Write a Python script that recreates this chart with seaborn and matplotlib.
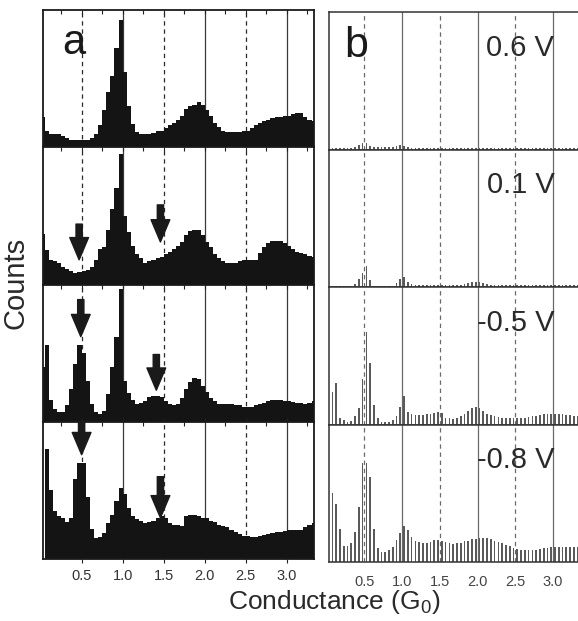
import numpy as np
import pandas as pd
import matplotlib
matplotlib.use("Agg")
import matplotlib.pyplot as plt
import seaborn as sns

sns.set_theme(style="white")
plt.rcParams["font.family"] = ["Liberation Sans", "DejaVu Sans"]
plt.rcParams["mathtext.fontset"] = "custom"
plt.rcParams["mathtext.rm"] = "Liberation Sans"
plt.rcParams["mathtext.it"] = "Liberation Sans:italic"

# ---------------- data (bin width 0.05 G0, bins 0.00 .. 3.35) ----------------
bin_edges = [round(0.05 * i, 2) for i in range(68)]
bin_centers = [round(0.025 + 0.05 * i, 3) for i in range(67)]

# panel a (filled histograms), counts in % of panel height
a_top = [22, 12, 10, 10, 10, 8, 6.5, 5.5, 5, 5, 5, 5.5, 7, 10, 16, 27, 40, 52, 72, 93,
         55, 30, 17, 11, 10, 10, 10, 10.5, 11.5, 12, 14, 16, 18, 20, 23, 28, 30, 31, 33, 31,
         27, 23, 18, 15, 12, 11, 11, 11, 11, 12, 12, 14, 16, 18, 19, 20, 21, 22, 22, 23,
         23, 24, 25, 25, 22, 20, 19]
a_second = [37, 25, 18, 17, 16, 13, 11, 10, 8.5, 9, 10, 10.5, 13, 18, 26, 27, 40, 55, 70, 95,
            50, 38, 28, 22, 19, 16, 17, 18, 19, 20, 22, 24, 26, 28, 31, 36, 39, 40, 40, 36,
            31, 27, 22, 19, 17, 16, 16, 16, 17, 18, 18, 18, 18, 23, 27, 30, 32, 32, 32, 30,
            28, 26, 24, 23, 22, 21, 20]
a_third = [40, 56, 16, 9, 7, 7, 12, 24, 42, 56, 50, 30, 13, 7, 5.5, 8, 20, 40, 62, 97,
           30, 21, 16, 13, 13.5, 15, 18, 19, 19, 18, 15, 13, 12, 13, 17, 24, 29, 32, 31, 26,
           22, 17, 15, 13, 13, 13, 13, 12.5, 12, 11, 10.5, 11, 12, 13, 14, 15, 16, 16, 15.5, 15,
           15, 14.5, 14, 13.5, 13, 14, 15]
a_bottom = [0, 80, 50, 35, 31, 30, 27, 30, 58, 70, 70, 45, 22, 15, 16, 19, 26, 32, 42, 52,
            47, 37, 31, 29, 28, 26, 27, 28, 30, 31, 30, 26, 25, 25, 24, 31, 32, 32, 31, 30,
            30, 28, 27, 25, 24, 23, 21, 20, 18.5, 17, 16.5, 16, 16, 17, 17.5, 18, 19, 19.5, 20, 20.5,
            21, 21, 21, 21, 23, 25, 26]

# panel b (electrode potential series)
b_06V = [1.2, 1.2, 1.2, 1.2, 1.2, 1.2, 1.2, 1.5, 3, 5, 4.5, 2.5, 2, 2, 2, 2, 2, 2, 2.5, 3,
         2.5, 1.5, 1.2, 1.2, 1.2, 1.2, 1.2, 1.2, 1.2, 1.2, 1.2, 1.2, 1.2, 1.2, 1.2, 1.2, 1.2, 1.2, 1.2, 1.2,
         1.2, 1.2, 1.2, 1.2, 1.2, 1.2, 1.2, 1.2, 1.2, 1.2, 1.2, 1.2, 1.2, 1.2, 1.2, 1.2, 1.2, 1.2, 1.2, 1.2,
         1.2, 1.2, 1.2, 1.2, 1.2, 1.2, 1.2]
b_01V = [1, 1, 1, 1, 1, 1, 1, 2, 6, 10, 15, 5, 1, 1, 1, 1, 1, 1, 3, 6,
         7, 3.5, 2, 1.2, 1.2, 1.2, 1.2, 1.2, 1.2, 1.2, 1.2, 1.2, 1.2, 1.2, 1.2, 1.2, 2, 3, 3.5, 3.5,
         3.5, 3, 2, 1.2, 1.2, 1.2, 1.2, 1.2, 1.2, 1.2, 1.2, 1.2, 1.2, 1.2, 1.2, 1.2, 1.2, 1.2, 1.2, 1.2,
         1.2, 1.2, 1.2, 1.2, 1.2, 1.2, 1.2]
b_m05V = [0, 24, 30, 5, 3, 2, 2.5, 6, 12, 33, 67, 45, 14, 5, 2, 2, 2, 3, 6, 13,
          21, 9, 7.5, 7, 7, 7, 7.5, 8, 8.5, 9, 8.5, 5, 4.5, 4, 5, 6, 8, 10, 12, 13,
          12, 10, 8, 7, 6, 5.5, 5, 5, 5, 5, 5, 5, 5, 5.5, 6, 6.5, 7, 7.5, 7.5, 7.5,
          7.5, 7.5, 7.5, 7, 7, 6.5, 6]
b_m08V = [0, 50, 42, 24, 12, 12, 14, 22, 40, 72, 72, 62, 24, 10, 7, 7, 9, 11, 16, 21,
          26, 23, 18, 15.5, 14.5, 13.5, 14, 14.5, 16, 16, 15.5, 14.5, 13.5, 13, 13.5, 14, 15, 15.5, 16.5, 17,
          17.5, 17.5, 17.5, 16.5, 15.5, 14.5, 13.5, 12.5, 11.5, 10.5, 9.5, 9, 8.6, 8.6, 8.6, 9, 9.4, 10, 10.5, 10.6,
          10.6, 10.6, 10.6, 10.6, 10.8, 11, 11]

voltage_labels = ["0.6 V", "0.1 V", "-0.5 V", "-0.8 V"]
tick_values = [0.5, 1.0, 1.5, 2.0, 2.5, 3.0]
tick_labels = ["0.5", "1.0", "1.5", "2.0", "2.5", "3.0"]

# arrows in panel a: (panel index, conductance, tail height, tip height)
arrow_specs = [(1, 0.47, 44, 18), (1, 1.46, 58, 31),
               (2, 0.49, 89, 62), (2, 1.41, 49, 23),
               (3, 0.50, 100, 76), (3, 1.46, 60, 30)]

a_series = [a_top, a_second, a_third, a_bottom]
b_series = [b_06V, b_01V, b_m05V, b_m08V]

# ---------------- figure ----------------
W, H = 578, 621
fig = plt.figure(figsize=(W / 100, H / 100), dpi=100)

def fx(px):
    return px / W

def fy(py):
    return 1 - py / H

xlim = (0.03, 3.33)

def style_axis(ax, spine_color, lw, show_right=True):
    ax.set_xlim(*xlim)
    ax.set_ylim(0, 100)
    ax.set_yticks([])
    ax.set_ylabel("")
    ax.set_xlabel("")
    ax.set_facecolor("white")
    for s in ["left", "right", "top", "bottom"]:
        ax.spines[s].set_color(spine_color)
        ax.spines[s].set_linewidth(lw)
        ax.spines[s].set_visible(True)
    if not show_right:
        ax.spines["right"].set_visible(False)

def ref_lines(ax, solid_c, dash_c):
    for v in [1.0, 2.0, 3.0]:
        ax.axvline(v, color=solid_c, lw=0.9, zorder=0)
    for v in [0.5, 1.5, 2.5]:
        ax.axvline(v, color=dash_c, lw=0.9, ls=(0, (3.5, 3)), zorder=0)

# left column
left_top, left_bot = 10, 559
hL = (left_bot - left_top) / 4
axes_a = []
for i, vals in enumerate(a_series):
    top = left_top + i * hL
    ax = fig.add_axes([fx(43), fy(top + hL), fx(314) - fx(43), hL / H])
    df = pd.DataFrame({"G": bin_centers, "n": vals})
    ref_lines(ax, "#3a3a3a", "#2a2a2a")
    sns.histplot(data=df, x="G", weights="n", bins=bin_edges, ax=ax,
                 color="#141414", alpha=1, linewidth=0, element="bars", zorder=2)
    style_axis(ax, "#1a1a1a", 1.3)
    ax.set_xticks(tick_values)
    ax.set_xticks(np.arange(0.25, 3.3, 0.25), minor=True)
    ax.tick_params(axis="x", which="both", direction="in", top=True, bottom=True,
                   length=3, width=0.8, color="#222222", labelbottom=False)
    axes_a.append(ax)

axes_a[0].text(0.07, 0.76, "a", transform=axes_a[0].transAxes, fontsize=30,
               ha="left", va="center", color="#1a1a1a")
axes_a[-1].tick_params(axis="x", which="major", direction="out", top=True, length=3,
                       labelbottom=True, labelsize=10.5, labelcolor="#333333", pad=4)
axes_a[-1].tick_params(axis="x", which="minor", bottom=False)
axes_a[-1].set_xticklabels(tick_labels)

for (p, x, tail, tip) in arrow_specs:
    axes_a[p].annotate("", xy=(x, tip), xytext=(x, tail),
                       arrowprops=dict(arrowstyle="simple,head_length=1.6,head_width=1.35,tail_width=0.45",
                                       color="#1a1a1a", shrinkA=0, shrinkB=0, mutation_scale=10),
                       zorder=5, annotation_clip=False)

# right column
right_top, right_bot = 12, 562
hR = (right_bot - right_top) / 4
axes_b = []
for i, vals in enumerate(b_series):
    top = right_top + i * hR
    ax = fig.add_axes([fx(329), fy(top + hR), fx(578) - fx(329), hR / H])
    df = pd.DataFrame({"G": bin_centers, "n": vals})
    ref_lines(ax, "#6a6a6a", "#6a6a6a")
    sns.histplot(data=df, x="G", weights="n", bins=bin_edges, ax=ax, shrink=0.45,
                 color="#5a5a5a", alpha=1, linewidth=0, element="bars", zorder=2)
    style_axis(ax, "#333333", 1.1, show_right=False)
    ax.set_xticks(tick_values)
    ax.tick_params(axis="x", which="both", direction="out", length=0, labelbottom=False)
    ax.text(0.905, 0.74, voltage_labels[i], transform=ax.transAxes, fontsize=21,
            ha="right", va="center", color="#2a2a2a")
    axes_b.append(ax)

axes_b[0].text(0.06, 0.75, "b", transform=axes_b[0].transAxes, fontsize=31,
               ha="left", va="center", color="#1a1a1a")
axes_b[-1].tick_params(axis="x", which="major", direction="out", length=3, width=0.8,
                       color="#444444", labelbottom=True, labelsize=10.5,
                       labelcolor="#444444", pad=6)
axes_b[-1].set_xticklabels(tick_labels)

fig.text(fx(16), fy(283), "Counts", rotation=90, fontsize=21, ha="center", va="center",
         color="#2a2a2a")
fig.text(fx(334), fy(602), "Conductance (G$_0$)", fontsize=19, ha="center", va="center",
         color="#2a2a2a")

fig.savefig("out.png", dpi=100, facecolor="white")
